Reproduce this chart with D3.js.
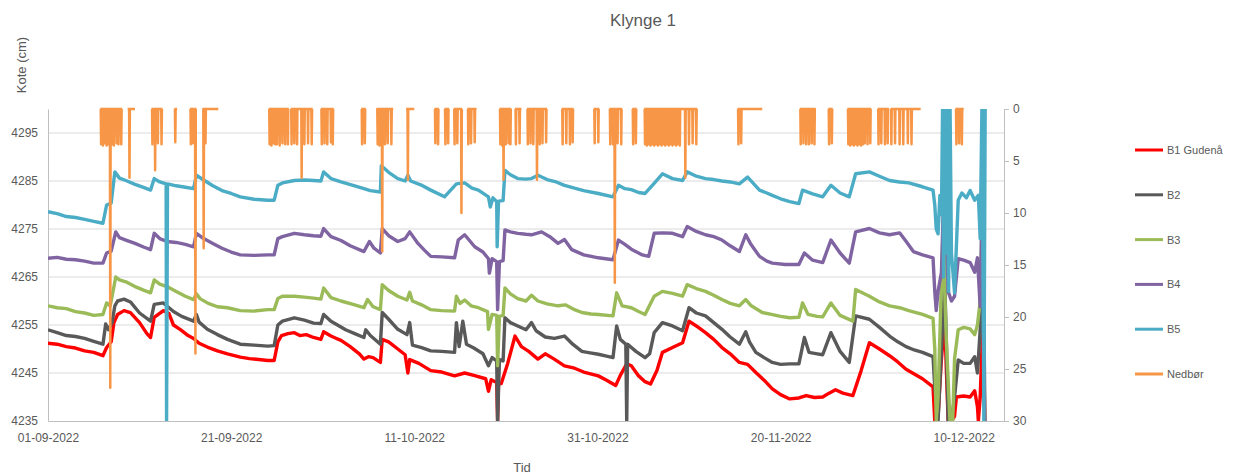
<!DOCTYPE html>
<html>
<head>
<meta charset="utf-8">
<script src="https://cdn.jsdelivr.net/npm/d3@7"></script>
<style>
  body { margin: 0; background: #fff; }
  svg { font-family: "Liberation Sans", Arial, sans-serif; }
  .tick text { fill: #595959; }
</style>
</head>
<body>
<svg width="1236" height="475"></svg>
<script>
// day offsets from 01-09-2022, water level in cm
const startDate = Date.UTC(2022, 8, 1);
const xTickDays = [0, 20, 40, 60, 80, 100];
const leftTicks = [4235, 4245, 4255, 4265, 4275, 4285, 4295];
const rightTicks = [0, 5, 10, 15, 20, 25, 30];

const b1 = [[0,4251.2],[1,4251.0],[2,4250.5],[3,4250.2],[4,4249.6],[5,4249.3],[6,4248.6],[6.4,4250.3],[6.9,4251.5],[7.2,4255.5],[7.6,4257.2],[8.3,4258.0],[9,4257.6],[10,4255.5],[10.8,4253.2],[11.2,4252.4],[11.6,4256.6],[12.6,4258.0],[13.2,4257.4],[13.7,4255.0],[14.5,4254.0],[15.3,4252.8],[15.9,4252.2],[16.5,4251.2],[17.4,4250.4],[18.5,4249.6],[19.6,4249.0],[21,4248.3],[22,4248.0],[23,4247.8],[24,4247.6],[24.7,4247.6],[25.1,4251.5],[25.5,4252.8],[26.2,4253.2],[26.9,4253.4],[27.5,4252.8],[28.2,4253.0],[29,4252.4],[29.8,4252.0],[30.1,4253.6],[30.9,4252.7],[31.5,4252.2],[32,4251.8],[33,4250.5],[34,4249.0],[34.5,4247.9],[35,4248.4],[35.5,4248.2],[36.3,4247.2],[36.5,4252.0],[37.2,4251.5],[38.2,4250.0],[39,4248.8],[39.3,4245.0],[39.5,4247.8],[40.5,4247.0],[41.8,4245.5],[43,4245.2],[44.4,4244.4],[45.5,4245.0],[46.5,4244.5],[47.8,4243.8],[48.1,4241.2],[48.4,4243.6],[49,4243.0],[49.1,4235],[49.2,4242.8],[49.5,4242.8],[50.2,4247.0],[51,4252.7],[51.7,4250.5],[52.5,4249.5],[53.5,4247.9],[54.3,4249.0],[55.2,4248.0],[56.4,4246.5],[57.5,4246.0],[58.5,4245.2],[60.1,4244.4],[61,4243.5],[62,4242.4],[62.5,4244.5],[63.2,4246.9],[63.7,4246.5],[64.5,4244.4],[65.2,4243.2],[65.8,4242.7],[66.5,4245.5],[67.1,4249.3],[68.2,4250.3],[69.3,4251.3],[70,4255.8],[70.8,4254.8],[71.8,4253.4],[72.7,4252.0],[73.6,4250.3],[74.5,4249.0],[75.5,4247.2],[76.4,4246.8],[77.3,4245.1],[78.2,4243.5],[79.1,4241.7],[80,4240.5],[81,4239.6],[82,4239.8],[82.8,4240.3],[83.7,4239.9],[84.6,4240.0],[85.3,4240.8],[86,4241.5],[86.8,4240.8],[87.9,4240.3],[88.8,4245.5],[89.7,4251.3],[90.8,4250.0],[91.9,4248.6],[92.8,4247.3],[93.7,4245.8],[94.6,4244.8],[95.5,4243.8],[96.65,4242.1],[96.84,4235],[97.2,4236],[97.57,4248],[97.93,4256],[98.1,4246],[98.3,4235],[98.66,4235],[99.0,4236],[99.2,4240],[100.0,4240.2],[100.7,4240.0],[101.2,4241.3],[101.5,4238],[101.6,4235],[101.8,4240],[102.1,4256],[102.3,4235]];

const b2 = [[0,4254.0],[1,4253.4],[2,4252.8],[3,4252.6],[4,4252.2],[5,4251.6],[6,4251.0],[6.3,4255.2],[6.6,4254.0],[7.0,4255.5],[7.3,4259.0],[7.6,4260.0],[8.3,4260.4],[9,4259.8],[10,4257.5],[11.2,4255.8],[11.6,4259.3],[12.6,4259.6],[13.7,4257.8],[14.6,4256.8],[15.9,4255.8],[16.2,4257.2],[16.5,4255.6],[17.4,4254.1],[18.5,4253.0],[19.6,4252.0],[21,4251.0],[22.5,4250.8],[24,4250.6],[24.7,4250.7],[25.1,4255.0],[25.6,4255.8],[26.9,4256.5],[28,4256.0],[29,4255.4],[29.8,4255.3],[30.1,4257.2],[30.9,4255.8],[31.8,4254.8],[32.5,4254.0],[33.5,4253.2],[34.5,4252.4],[34.7,4254.0],[35.2,4252.8],[36.3,4251.0],[36.5,4257.6],[37.2,4256.2],[38.2,4254.1],[39.2,4253.0],[39.5,4255.5],[39.8,4250.8],[40.8,4250.3],[41.8,4249.6],[43,4249.5],[44.4,4249.3],[44.6,4255.5],[44.9,4250.5],[45.3,4255.8],[45.7,4251.0],[46.5,4250.2],[47.5,4249.0],[48.1,4246.5],[48.5,4248.2],[49,4247.5],[49.1,4235],[49.3,4247.8],[49.7,4247.5],[49.9,4256.5],[50.5,4255.5],[51.3,4254.8],[52.2,4254.0],[52.8,4255.5],[53.3,4253.8],[54.3,4252.5],[55.3,4252.2],[56.4,4252.7],[57.3,4251.0],[58.3,4249.5],[59.2,4249.2],[60.1,4248.9],[61,4248.5],[61.7,4248.2],[62.1,4254.8],[62.5,4252.0],[63.1,4251.0],[63.2,4235],[63.3,4251.0],[64.2,4249.5],[65.2,4248.2],[65.7,4249.0],[66.2,4253.4],[67.1,4255.5],[68.2,4254.8],[69.3,4253.8],[70,4258.6],[70.8,4257.5],[71.8,4256.9],[72.7,4255.5],[73.6,4254.1],[74.5,4252.5],[75.5,4251.0],[76.2,4253.6],[76.6,4251.5],[77.3,4249.3],[78.2,4248.2],[79.1,4247.2],[80,4246.8],[81,4246.9],[82,4246.9],[82.6,4252.4],[83.1,4249.3],[84,4249.0],[84.6,4248.8],[85.5,4253.4],[86.5,4249.5],[87.5,4247.2],[88.2,4256.9],[89.7,4256.2],[90.8,4254.5],[91.9,4252.7],[92.8,4251.5],[93.7,4250.5],[94.6,4249.8],[95.5,4249.3],[96.65,4248.4],[96.84,4242],[97.2,4235],[97.57,4250],[97.93,4264],[98.1,4252],[98.3,4235],[98.66,4235],[99.0,4240],[99.4,4247.7],[100.0,4247.0],[100.7,4247.0],[101.2,4248.4],[101.5,4245],[101.8,4254],[102.1,4262],[102.3,4235]];

const b3 = [[0,4259.0],[1,4258.6],[2,4258.4],[3,4257.8],[4,4257.5],[5,4257.0],[6,4257.2],[6.4,4259.6],[6.8,4259.0],[7.4,4265.0],[7.8,4264.4],[8.5,4264.0],[9.5,4263.0],[10.5,4262.2],[11.2,4261.7],[11.6,4264.4],[12.2,4263.5],[13,4263.0],[14,4262.0],[15,4261.0],[15.9,4260.3],[16.2,4261.5],[16.6,4260.5],[17.5,4259.5],[18.5,4258.8],[19.6,4258.6],[21,4258.0],[22.5,4257.9],[24,4258.2],[24.7,4258.2],[25.1,4260.5],[25.6,4261.0],[26.9,4261.0],[28,4260.8],[29,4260.6],[29.8,4260.4],[30.1,4262.7],[30.9,4260.7],[32,4260.0],[33.5,4259.2],[34.5,4258.6],[34.9,4260.3],[35.5,4258.8],[36.3,4258.2],[36.5,4263.4],[37.2,4262.2],[38.2,4261.0],[39.2,4260.2],[39.5,4261.8],[39.8,4260.0],[40.8,4259.2],[41.8,4258.2],[43,4258.0],[44.4,4257.9],[44.6,4261.0],[45.0,4259.5],[45.5,4260.2],[46.2,4259.0],[47,4258.6],[48,4257.8],[48.1,4254.1],[48.5,4257.2],[49,4257.0],[49.1,4246.5],[49.3,4256.8],[49.7,4257.0],[49.9,4262.7],[50.5,4261.5],[51.3,4260.5],[52.2,4260.0],[52.8,4261.2],[53.5,4260.0],[54.5,4259.4],[55.7,4259.0],[56.5,4259.2],[57.5,4258.2],[58.3,4257.6],[59.3,4257.3],[60.1,4257.2],[61.7,4256.9],[62.1,4261.7],[62.7,4259.0],[63.7,4258.6],[64.5,4257.8],[65.2,4257.2],[66.2,4261.0],[67.1,4262.0],[68.2,4261.6],[69.3,4261.0],[69.8,4263.4],[70.8,4262.6],[71.8,4262.0],[72.7,4261.2],[73.6,4260.3],[74.5,4259.5],[75.5,4259.0],[76.2,4260.3],[76.8,4259.0],[78,4257.6],[79,4257.2],[80,4256.8],[81,4256.5],[82,4256.6],[82.4,4259.6],[83,4257.2],[84,4256.8],[84.6,4256.7],[85.5,4259.6],[86.5,4257.0],[87.9,4255.8],[88.2,4262.4],[89.7,4261.0],[90.8,4259.8],[91.9,4259.0],[93,4258.6],[94,4258.0],[95.5,4257.2],[96.65,4256.4],[96.84,4250],[97.0,4235],[97.2,4240],[97.57,4264],[97.8,4278],[97.93,4262],[98.1,4252],[98.5,4235],[98.8,4235],[99.0,4248],[99.4,4254],[100.0,4254.5],[100.7,4254.2],[101.2,4253],[101.5,4255],[101.8,4260],[102.1,4285],[102.3,4235]];

const b4 = [[0,4268.9],[1,4269.1],[2,4268.7],[3,4268.6],[4,4268.3],[5,4267.9],[6,4267.9],[6.4,4270.0],[6.9,4270.4],[7.4,4274.4],[7.8,4273.2],[8.5,4272.7],[9.5,4272.0],[10.5,4271.2],[11.2,4270.7],[11.6,4274.1],[12.2,4273.0],[13,4272.4],[14,4272.2],[15,4271.8],[15.9,4271.3],[16.2,4274.1],[17,4273.0],[18,4272.0],[19,4271.0],[20,4270.2],[21,4269.6],[22.5,4269.5],[24,4269.6],[24.7,4269.6],[25.1,4273.0],[25.6,4273.4],[26.9,4274.1],[28,4273.8],[29,4273.6],[29.8,4273.5],[30.1,4275.1],[30.9,4273.4],[32,4272.6],[33,4271.5],[34.5,4270.3],[35.1,4272.4],[35.6,4271.0],[36.3,4270.0],[36.5,4275.1],[37.2,4273.6],[38.2,4272.4],[39.0,4273.0],[39.5,4274.4],[40.4,4272.0],[41.1,4270.6],[41.8,4269.3],[43,4269.2],[44.4,4269.0],[44.8,4272.7],[45.5,4273.8],[46.6,4271.3],[47.5,4270.2],[48.1,4268.8],[48.2,4265.8],[48.5,4268.8],[49,4268.2],[49.1,4258.2],[49.3,4268.2],[49.7,4268.4],[49.9,4274.8],[50.5,4274.4],[51.3,4274.1],[52.2,4273.9],[52.8,4273.8],[53.9,4274.4],[54.8,4273.4],[55.7,4272.0],[56.4,4272.8],[57.2,4270.7],[58.5,4269.6],[60.1,4269.0],[61.7,4268.6],[62.3,4272.7],[63,4271.8],[63.7,4270.8],[64.9,4269.6],[65.6,4269.3],[66.2,4274.1],[67.1,4274.2],[68.2,4274.1],[69.3,4273.4],[69.8,4275.5],[70.8,4274.5],[71.8,4273.8],[72.7,4273.4],[73.6,4272.7],[74.5,4271.5],[75.5,4270.3],[76.2,4273.8],[76.7,4272.0],[77.7,4269.3],[78.5,4268.3],[79.1,4267.9],[80.5,4267.6],[82,4267.6],[82.6,4270.0],[83.5,4268.5],[84.6,4268.0],[85.5,4272.7],[86.5,4270.0],[87.5,4267.9],[88.2,4274.4],[89.7,4275.1],[90.8,4274.2],[91.9,4273.8],[93,4274.2],[93.8,4272.2],[94.5,4270.3],[95.5,4269.6],[96.65,4269.0],[96.84,4262],[97.0,4258],[97.2,4262],[97.57,4266],[97.93,4290],[98.1,4275],[98.3,4262],[98.66,4260],[99.0,4261],[99.4,4268.8],[100.0,4268.5],[100.7,4268.0],[101.2,4266],[101.5,4269],[101.8,4258.8],[102.1,4290],[102.3,4235]];

const b5 = [[0,4278.6],[1,4278.2],[2,4277.6],[3,4277.4],[4,4277.0],[5,4276.6],[6,4276.2],[6.4,4280.0],[6.9,4280.4],[7.3,4286.9],[7.8,4285.6],[8.5,4285.1],[9.5,4284.3],[10.5,4283.6],[11.2,4283.1],[11.6,4285.5],[12.2,4284.8],[12.9,4284.4],[12.95,4235],[13.05,4284.4],[14,4284.0],[15,4283.7],[15.9,4283.4],[16.2,4286.2],[17,4285.2],[18,4284.0],[19,4283.0],[20,4282.4],[21,4281.7],[22.5,4281.2],[24,4281.0],[24.7,4281.0],[25.1,4284.1],[25.6,4284.6],[26.9,4285.1],[28,4285.2],[29,4285.1],[29.8,4285.0],[30.1,4286.9],[30.9,4285.5],[32,4284.8],[33.5,4284.0],[34.5,4283.4],[35.2,4283.0],[36.3,4282.7],[36.4,4288.2],[37.2,4286.8],[38.2,4285.5],[39.0,4285.0],[39.3,4286.2],[39.6,4285.0],[40.7,4284.2],[41.8,4283.1],[43.3,4281.7],[44.6,4284.4],[45.5,4284.6],[46.3,4283.5],[47,4283.1],[48.1,4281.7],[48.3,4279.6],[48.6,4281.5],[49,4280.7],[49.05,4271.3],[49.2,4280.8],[49.7,4280.9],[49.9,4287.2],[50.5,4286.3],[51.3,4285.5],[52.2,4285.4],[52.8,4285.5],[53.5,4286.2],[54.5,4285.3],[55.5,4284.8],[56.4,4284.1],[57.5,4283.5],[58.5,4283.0],[60.1,4282.4],[61.7,4281.7],[62.3,4284.1],[63,4283.4],[63.7,4283.2],[64.5,4282.6],[65.2,4282.4],[66,4284.1],[67.1,4286.5],[68.2,4285.5],[69.3,4285.1],[69.8,4286.9],[70.8,4286.0],[71.8,4285.5],[72.7,4285.3],[73.6,4285.0],[74.5,4284.8],[75.5,4284.4],[76.4,4285.8],[77.7,4283.1],[78.5,4282.5],[79.1,4282.0],[80,4281.3],[81,4280.7],[82,4280.3],[82.4,4283.1],[83.5,4282.3],[84.6,4281.7],[85.5,4284.1],[86.5,4282.5],[87.5,4281.7],[88.2,4286.5],[89.7,4286.9],[90.8,4286.0],[91.9,4285.1],[93,4284.8],[94,4284.6],[95.5,4283.8],[96.65,4283.1],[96.84,4280],[97.0,4275],[97.2,4274],[97.4,4282],[97.57,4278],[97.7,4302],[97.8,4265],[97.9,4302],[98.0,4270],[98.2,4302],[98.35,4262],[98.5,4302],[98.66,4270],[99.0,4261.7],[99.4,4281],[99.8,4282.5],[100.3,4281.5],[100.7,4283],[101.2,4281],[101.6,4282],[101.8,4273],[102.0,4302],[102.2,4235],[102.35,4302]];

// precipitation: [day, mm] and the periods with data
const rainSpikes = [[5.8,3.4],[6.0,3.5],[6.2,3.3],[6.4,3.5],[6.6,3.4],[6.8,26.8],[7.0,3.4],[7.2,3.5],[7.5,3.3],[7.7,3.4],[8.0,3.4],[8.9,6.6],[11.4,3.4],[11.7,5.9],[12.0,3.3],[12.4,3.4],[13.9,3.2],[15.6,3.4],[15.8,3.3],[16.1,23.5],[17.0,13.4],[17.2,3.3],[24.2,3.4],[24.4,3.5],[24.6,3.3],[24.8,3.4],[25.0,3.4],[25.3,3.5],[25.6,3.3],[25.9,3.4],[26.2,3.4],[26.6,3.4],[26.9,3.3],[27.2,3.4],[27.7,6.6],[28.0,3.4],[28.4,3.3],[28.8,3.4],[29.9,3.4],[30.2,3.3],[30.5,3.4],[30.9,3.2],[31.1,3.4],[34.3,3.4],[34.6,3.3],[36.0,3.4],[36.2,3.5],[36.5,13.7],[36.8,3.4],[37.1,3.3],[37.5,3.4],[39.3,6.8],[42.3,3.3],[42.6,3.4],[43.4,3.4],[43.7,3.3],[44.4,3.4],[44.7,3.3],[45.15,10.0],[45.9,3.4],[46.2,3.3],[46.6,3.2],[49.4,3.4],[49.6,3.5],[49.75,6.8],[50.0,3.4],[50.3,3.3],[50.5,3.4],[51.1,3.4],[51.5,3.3],[52.4,3.4],[52.7,3.3],[53.0,3.4],[53.4,6.8],[53.7,3.4],[54.0,3.3],[54.4,3.2],[56.2,3.4],[56.6,3.3],[57.0,3.4],[57.3,3.2],[59.7,3.3],[60.1,3.2],[61.4,3.4],[61.7,3.4],[61.9,16.7],[62.2,3.3],[62.6,3.4],[63.9,3.4],[64.2,3.3],[65.2,3.4],[65.4,3.5],[65.6,3.4],[65.8,3.5],[66.0,3.4],[66.2,3.5],[66.4,3.4],[66.6,3.5],[66.8,3.4],[67.0,3.5],[67.2,3.4],[67.4,3.5],[67.6,3.4],[67.8,3.5],[68.0,3.4],[68.2,3.5],[68.4,3.4],[68.6,3.5],[68.8,3.4],[69.0,3.5],[69.6,6.6],[70.0,3.4],[70.4,3.3],[70.8,3.4],[75.4,3.4],[75.7,3.3],[82.2,3.4],[82.5,3.3],[82.8,3.4],[83.1,3.4],[83.4,3.3],[83.7,3.4],[85.3,3.4],[85.6,3.3],[87.4,3.4],[87.6,3.5],[87.8,3.4],[88.0,3.5],[88.2,3.4],[88.4,3.5],[88.6,3.4],[88.8,3.5],[89.0,3.4],[89.2,3.3],[89.5,3.4],[89.8,3.3],[90.7,3.4],[91.0,3.3],[91.4,3.4],[91.7,3.3],[92.1,3.4],[92.5,3.3],[93.0,3.4],[93.4,3.4],[93.9,3.3],[94.3,3.4],[99.2,3.4],[99.5,3.3],[99.8,3.4]];
const rainPeriods = [[5.7,8.1],[8.7,9.5],[11.3,12.5],[13.8,14.1],[15.5,16.2],[17.0,18.6],[24.1,26.3],[26.5,28.9],[29.8,31.2],[34.2,34.7],[36.0,37.7],[39.1,40.0],[42.2,42.7],[43.3,43.8],[44.3,45.2],[45.8,46.8],[49.3,50.6],[51.0,51.7],[52.3,54.5],[56.1,57.4],[59.6,60.2],[61.3,62.7],[63.8,64.3],[65.1,70.9],[75.3,78.0],[82.1,83.7],[85.2,85.7],[87.3,89.9],[90.6,91.7],[92.0,95.3],[99.1,100.0]];

const series = [
  { name: 'B1 Gudenå', color: '#ff0000', data: b1 },
  { name: 'B2', color: '#595959', data: b2 },
  { name: 'B3', color: '#9bbb59', data: b3 },
  { name: 'B4', color: '#8064a2', data: b4 },
  { name: 'B5', color: '#4bacc6', data: b5 },
  { name: 'Nedbør', color: '#f79646' }
];

const m = { left: 48, right: 1004, top: 109, bottom: 421 };
const toDate = d => new Date(startDate + d * 864e5);

let x = d3.scaleTime().domain([toDate(0), toDate(104.4)]).range([m.left, m.right]),
    y = d3.scaleLinear().domain([4235, 4300]).range([m.bottom, m.top]),
    y2 = d3.scaleLinear().domain([0, 30]).range([m.top, m.bottom]);

let svg = d3.select('svg');

svg.append('defs').append('clipPath').attr('id', 'plot')
  .append('rect').attr('x', m.left).attr('y', m.top)
  .attr('width', m.right - m.left).attr('height', m.bottom - m.top);

// gridlines
svg.append('g').selectAll('line').data(leftTicks.slice(1)).join('line')
  .attr('x1', m.left).attr('x2', m.right)
  .attr('y1', d => y(d)).attr('y2', d => y(d))
  .attr('stroke', '#d9d9d9').attr('stroke-width', 1);

let yAxis = svg.append('g').attr('transform', `translate(${m.left},0)`)
  .call(d3.axisLeft(y).tickValues(leftTicks).tickFormat(d3.format('d')).tickSize(0).tickPadding(10));
yAxis.select('.domain').attr('stroke', '#bfbfbf');
yAxis.selectAll('text').attr('font-size', 12);

let y2Axis = svg.append('g').attr('transform', `translate(${m.right},0)`)
  .call(d3.axisRight(y2).tickValues(rightTicks).tickSize(5).tickPadding(4));
y2Axis.selectAll('path, line').attr('stroke', '#bfbfbf');
y2Axis.selectAll('text').attr('font-size', 12);

let xAxis = svg.append('g').attr('transform', `translate(0,${m.bottom})`)
  .call(d3.axisBottom(x).tickValues(xTickDays.map(toDate)).tickSize(0).tickPadding(12)
    .tickFormat(d3.utcFormat('%d-%m-%Y')));
xAxis.select('.domain').attr('stroke', '#bfbfbf');
xAxis.selectAll('text').attr('font-size', 12);

let lines = svg.append('g').attr('clip-path', 'url(#plot)');
let lineGen = d3.line().x(d => x(toDate(d[0]))).y(d => y(d[1]));

series.filter(s => s.data).forEach(s => {
  lines.append('path').datum(s.data)
    .attr('d', lineGen)
    .attr('fill', 'none').attr('stroke', s.color)
    .attr('stroke-width', 3.4).attr('stroke-linejoin', 'round');
});

// rain on secondary axis, one sub path per period
let rainLine = d3.line().x(d => x(toDate(d[0]))).y(d => y2(d[1]));
rainPeriods.forEach(p => {
  let pts = [[p[0], 0]];
  rainSpikes.filter(s => s[0] >= p[0] && s[0] <= p[1]).forEach(s => {
    pts.push([s[0] - 0.04, 0], [s[0], s[1]], [s[0] + 0.04, 0]);
  });
  pts.push([p[1], 0]);
  svg.append('path').datum(pts)
    .attr('d', rainLine)
    .attr('fill', 'none').attr('stroke', '#f79646')
    .attr('stroke-width', 2.5).attr('stroke-linejoin', 'round');
});

// titles
svg.append('text').attr('x', 643).attr('y', 26).attr('text-anchor', 'middle')
  .attr('font-size', 17).attr('fill', '#595959').text('Klynge 1');
svg.append('text').attr('transform', 'translate(26,65) rotate(-90)').attr('text-anchor', 'middle')
  .attr('font-size', 13).attr('fill', '#595959').text('Kote (cm)');
svg.append('text').attr('x', 522).attr('y', 472).attr('text-anchor', 'middle')
  .attr('font-size', 13).attr('fill', '#595959').text('Tid');

// legend
let legend = svg.append('g').selectAll('g').data(series).join('g')
  .attr('transform', (d, i) => `translate(1135,${150 + i * 44.8})`);
legend.append('line').attr('x1', 0).attr('x2', 28)
  .attr('stroke', d => d.color).attr('stroke-width', 3);
legend.append('text').attr('x', 32).attr('y', 4)
  .attr('font-size', 11).attr('fill', '#595959').text(d => d.name);
</script>
</body>
</html>
